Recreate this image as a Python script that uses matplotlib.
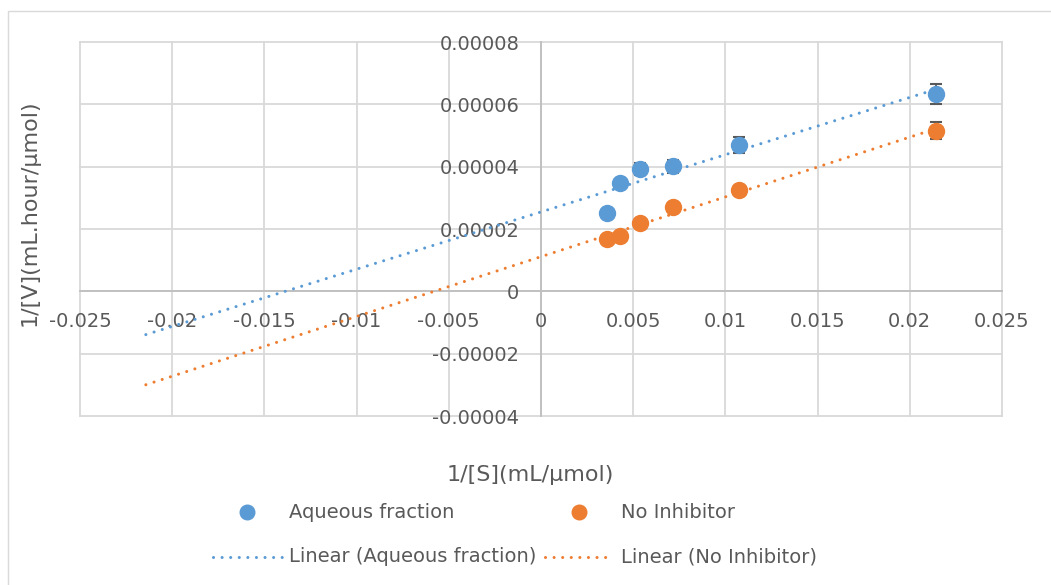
import numpy as np
import matplotlib
matplotlib.use("Agg")
import matplotlib.pyplot as plt
from matplotlib.patches import Rectangle
from matplotlib.lines import Line2D

# ---- data ----
s_inv = [0.003571, 0.004286, 0.005357, 0.007143, 0.010714, 0.021429]
aqueous = [2.50e-5, 3.47e-5, 3.92e-5, 4.01e-5, 4.69e-5, 6.34e-5]
aqueous_err = [0.5e-6, 1.0e-6, 2.0e-6, 2.0e-6, 2.5e-6, 3.2e-6]
no_inhib = [1.69e-5, 1.77e-5, 2.19e-5, 2.70e-5, 3.24e-5, 5.15e-5]
no_inhib_err = [0.5e-6, 0.8e-6, 1.0e-6, 1.5e-6, 1.5e-6, 2.7e-6]
x_ticks = [-0.025, -0.02, -0.015, -0.01, -0.005, 0, 0.005, 0.01, 0.015, 0.02, 0.025]
x_tick_labels = ["-0.025", "-0.02", "-0.015", "-0.01", "-0.005", "0", "0.005", "0.01", "0.015", "0.02", "0.025"]
y_ticks = [-0.00004, -0.00002, 0, 0.00002, 0.00004, 0.00006, 0.00008]
y_tick_labels = ["-0.00004", "-0.00002", "0", "0.00002", "0.00004", "0.00006", "0.00008"]
backward_forecast = 0.025

BLUE = "#5B9BD5"
ORANGE = "#ED7D31"
GRID = "#D9D9D9"
AXIS = "#BFBFBF"
TXT = "#595959"

W, H = 1051, 585
fig = plt.figure(figsize=(W / 100, H / 100), dpi=100)
fig.patch.set_facecolor("white")

def fx(px):
    return px / W

def fy(py):
    return 1 - py / H

# outer chart border
fig.patches.append(Rectangle((fx(8), fy(600)), fx(1100) - fx(8), fy(11) - fy(600),
                             transform=fig.transFigure, fill=False,
                             edgecolor=GRID, lw=1.0, zorder=0))

ax = fig.add_axes([fx(80), fy(416), fx(1002) - fx(80), fy(42) - fy(416)])
ax.set_xlim(x_ticks[0], x_ticks[-1])
ax.set_ylim(y_ticks[0], y_ticks[-1])

# gridlines
for xv in x_ticks:
    ax.axvline(xv, color=GRID, lw=1.3, zorder=0, clip_on=False)
for yv in y_ticks:
    ax.axhline(yv, color=GRID, lw=1.3, zorder=0, clip_on=False)

for sp in ["top", "right"]:
    ax.spines[sp].set_visible(False)
ax.spines["left"].set_position(("data", 0))
ax.spines["bottom"].set_position(("data", 0))
for sp in ["left", "bottom"]:
    ax.spines[sp].set_color(AXIS)
    ax.spines[sp].set_linewidth(1.3)
    ax.spines[sp].set_zorder(1)

ax.set_xticks(x_ticks)
ax.set_xticklabels(x_tick_labels)
ax.set_yticks(y_ticks)
ax.set_yticklabels(y_tick_labels)
ax.tick_params(axis="both", length=0, labelsize=14, labelcolor=TXT)
ax.tick_params(axis="x", pad=15)
ax.tick_params(axis="y", pad=15.5)

def trend(xs, ys):
    m, b = np.polyfit(xs, ys, 1)
    x0 = min(xs) - backward_forecast
    x1 = max(xs)
    return [x0, x1], [m * x0 + b, m * x1 + b]

dot_style = dict(linestyle=(0, (0.01, 2.8)), dash_capstyle="round", lw=2.2)

tx, ty = trend(s_inv, aqueous)
ax.plot(tx, ty, color=BLUE, zorder=2, **dot_style)
tx, ty = trend(s_inv, no_inhib)
ax.plot(tx, ty, color=ORANGE, zorder=2, **dot_style)

for ys, es, col in [(aqueous, aqueous_err, BLUE), (no_inhib, no_inhib_err, ORANGE)]:
    ax.errorbar(s_inv, ys, yerr=es, fmt="none", ecolor=TXT, elinewidth=1.3,
                capsize=4.3, capthick=1.5, zorder=3)
    ax.plot(s_inv, ys, "o", color=col, ms=11.5, mec=col, zorder=4, linestyle="none")

# axis titles
fig.text(fx(530), fy(475), "1/[S](mL/µmol)", ha="center", va="center",
         fontsize=16, color=TXT)
fig.text(fx(30), fy(213), "1/[V](mL.hour/µmol)", ha="center", va="center",
         rotation=90, fontsize=16, color=TXT)

# legend (manual, Excel style)
fig.add_artist(Line2D([fx(247)], [fy(512)], marker="o", ms=10.5, color=BLUE,
                      transform=fig.transFigure, linestyle="none"))
fig.text(fx(289), fy(512), "Aqueous fraction", ha="left", va="center", fontsize=14, color=TXT)
fig.add_artist(Line2D([fx(579)], [fy(512)], marker="o", ms=10.5, color=ORANGE,
                      transform=fig.transFigure, linestyle="none"))
fig.text(fx(621), fy(512), "No Inhibitor", ha="left", va="center", fontsize=14, color=TXT)

fig.add_artist(Line2D([fx(213), fx(282)], [fy(557), fy(557)], color=BLUE,
                      transform=fig.transFigure, **dot_style))
fig.text(fx(289), fy(557), "Linear (Aqueous fraction)", ha="left", va="center", fontsize=14, color=TXT)
fig.add_artist(Line2D([fx(545), fx(613)], [fy(557), fy(557)], color=ORANGE,
                      transform=fig.transFigure, **dot_style))
fig.text(fx(621), fy(557), "Linear (No Inhibitor)", ha="left", va="center", fontsize=14, color=TXT)

fig.savefig("out.png", dpi=100, facecolor="white")
